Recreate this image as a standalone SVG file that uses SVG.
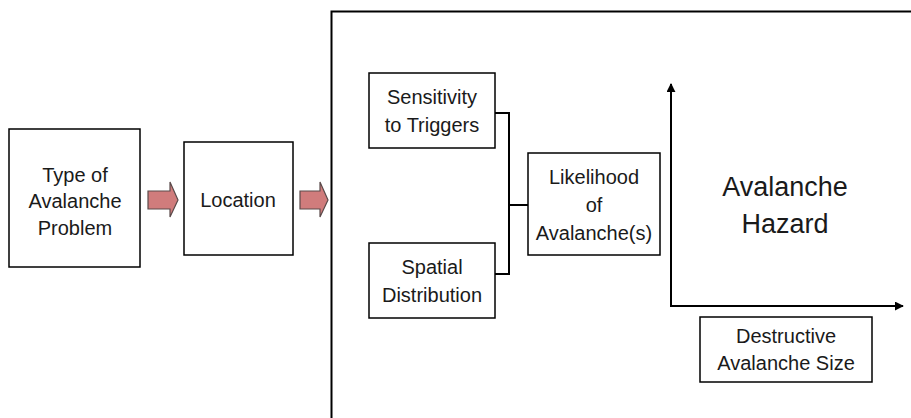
<svg xmlns="http://www.w3.org/2000/svg" width="911" height="418" viewBox="0 0 911 418">
<defs>
<style>
.box{fill:#fff;stroke:#000;stroke-width:1.5}
.t{font-family:"Liberation Sans",Arial,sans-serif;font-size:20px;fill:#1a1a1a;text-anchor:middle}
.big{font-size:27px}
.ln{fill:none;stroke:#000;stroke-width:2}
.arr{fill:#d07c7c;stroke:#5a4a4a;stroke-width:1.2}
</style>
<marker id="ah" viewBox="0 0 10 10" refX="9" refY="5" markerWidth="4.5" markerHeight="4.5" orient="auto"><path d="M0,0 L10,5 L0,10 z" fill="#000"/></marker>
</defs>
<rect width="911" height="418" fill="#fff"/>
<g id="frame"><path d="M331.5,418 V11.5 H911" class="ln"/></g>
<g id="type"><rect x="9" y="129" width="131" height="138" class="box"/>
<text class="t"><tspan x="75" y="182">Type of</tspan><tspan x="75" y="208">Avalanche</tspan><tspan x="75" y="235">Problem</tspan></text></g>
<g id="location"><rect x="184" y="142" width="109" height="113" class="box"/>
<text class="t" x="238" y="207">Location</text></g>
<g id="sensitivity"><rect x="369" y="73" width="126" height="75" class="box"/>
<text class="t"><tspan x="432" y="104">Sensitivity</tspan><tspan x="432" y="132">to Triggers</tspan></text></g>
<g id="spatial"><rect x="369" y="243" width="126" height="75" class="box"/>
<text class="t"><tspan x="432" y="274">Spatial</tspan><tspan x="432" y="302">Distribution</tspan></text></g>
<g id="likelihood"><rect x="528" y="153" width="132" height="102" class="box"/>
<text class="t"><tspan x="594" y="184">Likelihood</tspan><tspan x="594" y="212">of</tspan><tspan x="594" y="240">Avalanche(s)</tspan></text></g>
<g id="hazard"><text class="t big"><tspan x="785" y="196">Avalanche</tspan><tspan x="785" y="233">Hazard</tspan></text></g>
<g id="size"><rect x="700" y="317" width="172" height="65" class="box"/>
<text class="t"><tspan x="786" y="343">Destructive</tspan><tspan x="786" y="370">Avalanche Size</tspan></text></g>
<g id="connectors">
<path class="arr" d="M148,191 H170 V182 L178,200 L170,217 V209 H148 Z"/>
<path class="arr" d="M300,191 H320 V182 L328,200 L320,217 V209 H300 Z"/>
<path class="ln" d="M495,113 H509 V274 H495 M509,205 H528"/>
<path class="ln" d="M671,306 V84" marker-end="url(#ah)"/>
<path class="ln" d="M670,306 H903" marker-end="url(#ah)"/>
</g>
</svg>
